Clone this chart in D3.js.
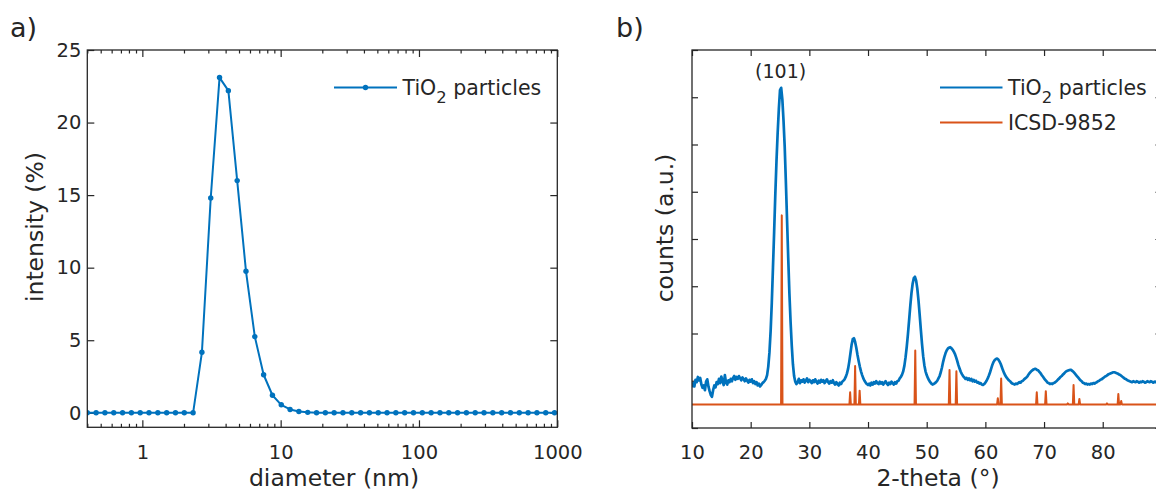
<!DOCTYPE html>
<html>
<head>
<meta charset="utf-8">
<script src="https://cdn.jsdelivr.net/npm/d3@7"></script>
<style>
  body { margin: 0; background: #fff; }
  svg text { font-family: "DejaVu Sans", Verdana, sans-serif; fill: #262626; }
</style>
</head>
<body>
<svg id="fig" width="1156" height="493"></svg>
<script>
// ---------- a) DLS size distribution ----------
const sizeNm = [0.4, 0.4632, 0.5365, 0.6213, 0.7195, 0.8332, 0.9649, 1.117, 1.294, 1.499,
  1.736, 2.010, 2.328, 2.696, 3.122, 3.615, 4.187, 4.849, 5.615, 6.503,
  7.531, 8.721, 10.10, 11.70, 13.54, 15.69, 18.17, 21.04, 24.36, 28.21,
  32.67, 37.84, 43.82, 50.75, 58.77, 68.06, 78.82, 91.28, 105.7, 122.4,
  141.8, 164.2, 190.1, 220.2, 255.0, 295.3, 342.0, 396.1, 458.7, 531.2,
  615.1, 712.4, 825.0, 955.4];
const intensityPct = [0, 0, 0, 0, 0, 0, 0, 0, 0, 0,
  0, 0, 0, 4.17, 14.8, 23.1, 22.2, 16.0, 9.75, 5.25,
  2.62, 1.21, 0.55, 0.23, 0.09, 0.03, 0, 0, 0, 0,
  0, 0, 0, 0, 0, 0, 0, 0, 0, 0,
  0, 0, 0, 0, 0, 0, 0, 0, 0, 0,
  0, 0, 0, 0];
const sizeTicks = [1, 10, 100, 1000];
const sizeTickLabels = ["1", "10", "100", "1000"];
const intensityTicks = [0, 5, 10, 15, 20, 25];

// ---------- b) XRD pattern ----------
const twoThetaStart = 10;   // degrees
const twoThetaStep = 0.2;   // degrees
const xrdCounts = [
  0.86,0.95,0.88,1.02,0.97,1.08,1.01,1.06,0.92,0.85, // 10.0
  0.90,0.80,0.98,1.03,0.88,0.78,0.70,0.66,0.80,0.90, // 12.0
  0.86,0.97,0.93,1.04,0.95,1.09,0.99,0.91,1.12,0.96, // 14.0
  0.92,1.01,0.97,1.04,0.99,1.06,1.10,1.02,1.08,1.04, // 16.0
  1.10,1.05,1.01,1.07,1.03,0.99,1.05,1.00,0.96,1.02, // 18.0
  0.98,1.03,0.95,0.99,0.93,0.97,0.90,0.94,0.88,0.91, // 20.0
  0.95,0.97,1.00,1.04,1.12,1.30,1.60,2.05,2.65,3.40, // 22.0
  4.15,4.95,5.65,6.25,6.75,7.15,7.20,6.95,6.50,5.95, // 24.0
  5.20,4.40,3.60,2.85,2.25,1.75,1.35,1.10,0.98,0.93, // 26.0
  0.97,1.04,0.95,1.01,0.98,1.03,0.96,1.00,1.05,0.97, // 28.0
  1.02,0.99,0.95,1.01,0.97,1.03,0.98,0.94,1.00,0.96, // 30.0
  1.02,0.98,1.01,0.95,0.99,1.03,0.97,0.94,0.99,0.96, // 32.0
  1.01,0.95,0.92,0.97,0.93,0.90,0.96,0.93,0.98,1.00, // 34.0
  1.03,1.08,1.15,1.25,1.40,1.58,1.76,1.88,1.90,1.82, // 36.0
  1.70,1.55,1.42,1.30,1.20,1.12,1.05,1.00,0.96,0.93, // 38.0
  0.91,0.94,0.90,0.96,0.92,0.97,0.94,0.99,0.95,0.93, // 40.0
  0.98,0.94,0.97,0.92,0.96,0.99,0.94,0.91,0.96,0.93, // 42.0
  0.98,0.95,0.92,0.97,0.94,0.99,1.00,1.05,1.08,1.13, // 44.0
  1.20,1.32,1.50,1.72,1.98,2.28,2.58,2.85,3.05,3.17, // 46.0
  3.20,3.12,2.95,2.70,2.40,2.08,1.78,1.52,1.33,1.20, // 48.0
  1.12,1.06,1.01,0.97,0.94,0.92,0.93,0.95,0.97,1.00, // 50.0
  1.05,1.10,1.18,1.28,1.40,1.50,1.58,1.64,1.68,1.70, // 52.0
  1.71,1.69,1.66,1.62,1.57,1.50,1.42,1.33,1.26,1.19, // 54.0
  1.14,1.10,1.07,1.04,1.06,1.02,1.05,1.01,1.04,0.99, // 56.0
  1.02,0.98,1.00,0.96,0.97,0.94,0.95,0.92,0.91,0.93, // 58.0
  0.96,1.00,1.05,1.11,1.18,1.26,1.34,1.40,1.44,1.46, // 60.0
  1.47,1.45,1.41,1.36,1.29,1.22,1.16,1.11,1.07,1.04, // 62.0
  1.01,0.99,0.96,0.94,0.93,0.92,0.94,0.93,0.95,0.97, // 64.0
  0.96,0.99,1.00,1.03,1.05,1.07,1.10,1.14,1.17,1.20, // 66.0
  1.22,1.24,1.25,1.25,1.23,1.22,1.19,1.16,1.12,1.09, // 68.0
  1.05,1.02,0.99,0.96,0.95,0.93,0.94,0.93,0.95,0.96, // 70.0
  0.98,1.00,1.03,1.05,1.08,1.10,1.13,1.15,1.18,1.20, // 72.0
  1.21,1.22,1.23,1.23,1.21,1.19,1.16,1.13,1.10,1.07, // 74.0
  1.04,1.01,0.99,0.96,0.95,0.93,0.94,0.92,0.93,0.92, // 76.0
  0.94,0.93,0.95,0.94,0.96,0.97,0.99,1.00,1.02,1.03, // 78.0
  1.05,1.07,1.09,1.10,1.12,1.14,1.15,1.16,1.17,1.18, // 80.0
  1.18,1.17,1.16,1.15,1.13,1.12,1.10,1.08,1.06,1.04, // 82.0
  1.03,1.01,1.00,0.99,0.98,0.97,0.99,0.98,0.97,0.99, // 84.0
  0.98,0.96,0.98,0.97,0.99,0.98,0.96,0.97,0.99,0.98, // 86.0
  0.97,0.99,0.98,0.96,0.98,0.97,0.99,0.98,0.97,0.98, // 88.0
  0.97                                               // 90.0
];
// ICSD-9852 (anatase) reference reflections, offset below the measured pattern
const refBaseline = 0.5;
const refPeakPos = [25.30, 36.95, 37.80, 38.57, 48.05, 53.89, 55.06, 62.12, 62.69,
  68.76, 70.30, 74.05, 75.03, 76.02, 80.73, 82.66, 83.15];
const refPeakInt = [4.50, 0.755, 1.31, 0.79, 1.64, 1.23, 1.20, 0.63, 1.045,
  0.755, 0.78, 0.52, 0.91, 0.615, 0.52, 0.72, 0.57];
const twoThetaTicks = [10, 20, 30, 40, 50, 60, 70, 80, 90];
const twoThetaTickLabels = ["10", "20", "30", "40", "50", "60", "70", "80", ""];
const countTicks = [0, 1, 2, 3, 4, 5, 6, 7, 8];
const peakLabel = { text: "(101)", pos: 25.1, value: 7.2 };

const seriesNames = ["TiO", "2", " particles"];
const refName = "ICSD-9852";

const blue = "#0072BD", orange = "#D95319", ink = "#262626";
const tickFont = 19.5, labelFont = 23.5, legendFont = 20.5;

const svg = d3.select("#fig");

function styleAxis(g, fontSize) {
  g.select(".domain").remove();
  g.selectAll(".tick line").attr("stroke", ink).attr("stroke-width", 1.2);
  g.selectAll(".tick text").attr("font-size", fontSize).attr("fill", ink)
    .style("font-family", "'DejaVu Sans', Verdana, sans-serif");
}

function drawFrame(x0, x1, y0, y1) {
  svg.append("rect")
    .attr("x", x0).attr("y", y0).attr("width", x1 - x0).attr("height", y1 - y0)
    .attr("fill", "none").attr("stroke", ink).attr("stroke-width", 1.3);
}

// ================= panel a =================
const xA = d3.scaleLog().domain([0.4, 1000]).range([87.3, 557.3]);
const yA = d3.scaleLinear().domain([-1, 25]).range([427.3, 50]);
const [ax0, ax1] = xA.range(), [ay1, ay0] = yA.range();

svg.append("clipPath").attr("id", "clipA").append("rect")
  .attr("x", ax0).attr("y", ay0).attr("width", ax1 - ax0).attr("height", ay1 - ay0);

const minorA = xA.ticks().filter(v => !sizeTicks.includes(v));

svg.append("g").attr("transform", `translate(0,${ay1})`)
  .call(d3.axisBottom(xA).tickValues(sizeTicks)
    .tickFormat((d, i) => sizeTickLabels[i]).tickSize(-7).tickPadding(17.5))
  .call(g => styleAxis(g, tickFont));
svg.append("g").attr("transform", `translate(0,${ay1})`)
  .call(d3.axisBottom(xA).tickValues(minorA).tickFormat("").tickSize(-3.5))
  .call(g => styleAxis(g, tickFont));
svg.append("g").attr("transform", `translate(0,${ay0})`)
  .call(d3.axisTop(xA).tickValues(sizeTicks).tickFormat("").tickSize(-7))
  .call(g => styleAxis(g, tickFont));
svg.append("g").attr("transform", `translate(0,${ay0})`)
  .call(d3.axisTop(xA).tickValues(minorA).tickFormat("").tickSize(-3.5))
  .call(g => styleAxis(g, tickFont));
svg.append("g").attr("transform", `translate(${ax0},0)`)
  .call(d3.axisLeft(yA).tickValues(intensityTicks).tickSize(-7).tickPadding(6))
  .call(g => styleAxis(g, tickFont));
svg.append("g").attr("transform", `translate(${ax1},0)`)
  .call(d3.axisRight(yA).tickValues(intensityTicks).tickFormat("").tickSize(-7))
  .call(g => styleAxis(g, tickFont));

const dls = sizeNm.map((d, i) => ({ d, v: intensityPct[i] }));
const gA = svg.append("g").attr("clip-path", "url(#clipA)");
gA.append("path").datum(dls)
  .attr("fill", "none").attr("stroke", blue).attr("stroke-width", 2)
  .attr("stroke-linejoin", "round")
  .attr("d", d3.line().x(p => xA(p.d)).y(p => yA(p.v)));
gA.selectAll("circle").data(dls).join("circle")
  .attr("cx", p => xA(p.d)).attr("cy", p => yA(p.v)).attr("r", 2.7).attr("fill", blue);

drawFrame(ax0, ax1, ay0, ay1);

// legend a
const legA = svg.append("g");
legA.append("line").attr("x1", 334).attr("x2", 397).attr("y1", 87.5).attr("y2", 87.5)
  .attr("stroke", blue).attr("stroke-width", 2);
legA.append("circle").attr("cx", 365.5).attr("cy", 87.5).attr("r", 2.7).attr("fill", blue);
function seriesLabel(g, x, y) {
  const t = g.append("text").attr("x", x).attr("y", y).attr("font-size", legendFont);
  t.append("tspan").text(seriesNames[0]);
  t.append("tspan").attr("font-size", legendFont * 0.8).attr("dy", 8).text(seriesNames[1]);
  t.append("tspan").attr("dy", -8).text(seriesNames[2]);
}
seriesLabel(legA, 402.5, 94.5);

svg.append("text").attr("x", 334).attr("y", 486).attr("text-anchor", "middle")
  .attr("font-size", labelFont).text("diameter (nm)");
svg.append("text").attr("transform", "translate(43,227) rotate(-90)")
  .attr("text-anchor", "middle").attr("font-size", labelFont).text("intensity (%)");
svg.append("text").attr("x", 10).attr("y", 37).attr("font-size", 27).text("a)");

// ================= panel b =================
const xB = d3.scaleLinear().domain([10, 90]).range([692, 1161.4]);
const yB = d3.scaleLinear().domain([0, 8]).range([428, 50]);
const [bx0, bx1] = xB.range(), [by1, by0] = yB.range();

svg.append("clipPath").attr("id", "clipB").append("rect")
  .attr("x", bx0).attr("y", by0).attr("width", bx1 - bx0).attr("height", by1 - by0);

svg.append("g").attr("transform", `translate(0,${by1})`)
  .call(d3.axisBottom(xB).tickValues(twoThetaTicks)
    .tickFormat((d, i) => twoThetaTickLabels[i]).tickSize(-6).tickPadding(17.5))
  .call(g => styleAxis(g, tickFont));
svg.append("g").attr("transform", `translate(0,${by0})`)
  .call(d3.axisTop(xB).tickValues(twoThetaTicks).tickFormat("").tickSize(-6))
  .call(g => styleAxis(g, tickFont));
svg.append("g").attr("transform", `translate(${bx0},0)`)
  .call(d3.axisLeft(yB).tickValues(countTicks).tickFormat("").tickSize(-6))
  .call(g => styleAxis(g, tickFont));
svg.append("g").attr("transform", `translate(${bx1},0)`)
  .call(d3.axisRight(yB).tickValues(countTicks).tickFormat("").tickSize(-6))
  .call(g => styleAxis(g, tickFont));

const xrd = xrdCounts.map((v, i) => ({ t: twoThetaStart + i * twoThetaStep, v }));
// reference pattern: flat baseline with a narrow line at every reflection
const halfWidth = 0.12;
const refPts = [{ t: 10, v: refBaseline }];
refPeakPos.forEach((p, i) => {
  refPts.push({ t: p - halfWidth, v: refBaseline });
  refPts.push({ t: p, v: refPeakInt[i] });
  refPts.push({ t: p + halfWidth, v: refBaseline });
});
refPts.push({ t: 90, v: refBaseline });

const gB = svg.append("g").attr("clip-path", "url(#clipB)");
const lineB = d3.line().x(p => xB(p.t)).y(p => yB(p.v));
gB.append("path").datum(refPts)
  .attr("fill", "none").attr("stroke", orange).attr("stroke-width", 2)
  .attr("stroke-linejoin", "round").attr("d", lineB);
gB.append("path").datum(xrd)
  .attr("fill", "none").attr("stroke", blue).attr("stroke-width", 2.7)
  .attr("stroke-linejoin", "round").attr("d", lineB);

drawFrame(bx0, bx1, by0, by1);

svg.append("text").attr("x", xB(peakLabel.pos)).attr("y", yB(peakLabel.value) - 10)
  .attr("text-anchor", "middle").attr("font-size", 19).text(peakLabel.text);

// legend b
const legB = svg.append("g");
legB.append("line").attr("x1", 940).attr("x2", 1002.5).attr("y1", 87.5).attr("y2", 87.5)
  .attr("stroke", blue).attr("stroke-width", 2);
seriesLabel(legB, 1008, 94.5);
legB.append("line").attr("x1", 940).attr("x2", 1002.5).attr("y1", 122.5).attr("y2", 122.5)
  .attr("stroke", orange).attr("stroke-width", 2);
legB.append("text").attr("x", 1008).attr("y", 130).attr("font-size", legendFont).text(refName);

svg.append("text").attr("x", 938).attr("y", 486).attr("text-anchor", "middle")
  .attr("font-size", labelFont).text("2-theta (°)");
svg.append("text").attr("transform", "translate(673,228) rotate(-90)")
  .attr("text-anchor", "middle").attr("font-size", labelFont).text("counts (a.u.)");
svg.append("text").attr("x", 616).attr("y", 37).attr("font-size", 27).text("b)");
</script>
</body>
</html>
